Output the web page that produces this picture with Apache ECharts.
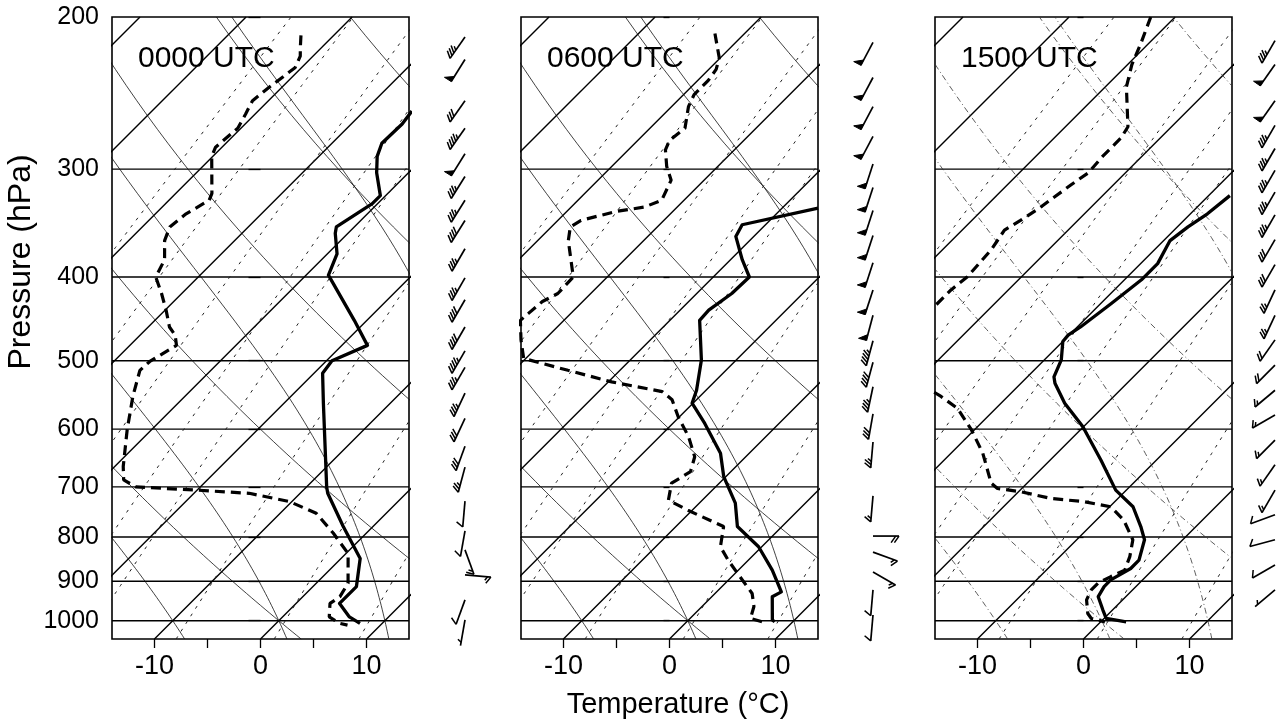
<!DOCTYPE html>
<html><head><meta charset="utf-8">
<script src="https://cdn.jsdelivr.net/npm/echarts@6/dist/echarts.min.js"></script>
<style>html,body{margin:0;padding:0;background:#fff}#c{width:1287px;height:722px}</style>
</head><body><div id="c"></div>
<script>
// ---------- labels / ticks ----------
const panelTitles = ['0000 UTC', '0600 UTC', '1500 UTC'];
const pressureTicks = [200, 300, 400, 500, 600, 700, 800, 900, 1000];
const isobarLevels = [300, 400, 500, 600, 700, 800, 900, 1000];
const tempTicks = [-10, -5, 0, 5, 10];
const tempTickLabels = [-10, 0, 10];
const isothermsAtBase = [-90, -80, -70, -60, -50, -40, -30, -20, -10, 0, 10];
const dryAdiabatsC = [-40, -20, 0, 20, 40, 60, 80, 100, 120];
const moistAdiabatsC = [-30, -20, -10, 0, 10, 20, 30];
const mixingRatios = [0.1, 0.2, 0.4, 0.7, 1, 2, 4, 7, 10, 16, 24];

// ---------- 0000 UTC ----------
const temp0000P = [257, 266, 280, 290, 303, 322, 329, 350, 356, 376, 398, 449, 480, 500, 517, 560, 700, 712, 778, 847, 913, 946, 955, 990, 1007];
const temp0000T = [-35.5, -35.2, -35.3, -34.5, -33.0, -30.5, -30.5, -31.7, -31.2, -29.1, -27.9, -21.2, -17.6, -19.5, -19.2, -16.3, -8.1, -7.4, -2.8, 1.8, 4.1, 4.1, 4.1, 6.3, 7.9];
const dew0000P = [210, 217, 222, 229, 241, 250, 259, 269, 283, 290, 320, 326, 338, 350, 363, 382, 400, 418, 437, 457, 467, 480, 488, 501, 513, 550, 601, 663, 687, 700, 706, 712, 728, 751, 792, 836, 905, 938, 955, 990, 1007, 1012];
const dew0000T = [-53.1, -52.0, -51.2, -50.6, -51.2, -51.5, -50.9, -50.3, -50.6, -50.1, -46.6, -46.2, -47.1, -47.4, -46.6, -44.8, -44.0, -41.9, -39.9, -38.0, -36.7, -35.6, -36.0, -36.6, -36.7, -34.9, -32.3, -29.2, -27.9, -26.1, -20.1, -14.8, -10.2, -6.6, -3.1, 0.2, 3.0, 3.5, 3.2, 4.4, 6.0, 6.9];
const wind0000P = [211, 224, 250, 269, 288, 306, 326, 344, 371, 401, 425, 457, 487, 509, 545, 583, 628, 664, 727, 787, 828, 885, 946, 998];
const wind0000Dir = [215, 212, 215, 215, 212, 212, 212, 212, 210, 210, 210, 210, 210, 210, 205, 205, 200, 195, 185, 190, 160, 95, 200, 190];
const wind0000Kt = [35, 50, 30, 45, 50, 35, 35, 40, 35, 35, 40, 40, 45, 35, 35, 30, 30, 25, 10, 10, 15, 15, 10, 5];

// ---------- 0600 UTC ----------
const temp0600P = [333, 348, 359, 382, 400, 418, 437, 449, 499, 541, 560, 591, 640, 681, 731, 778, 821, 874, 926, 938, 998, 1003];
const temp0600T = [-26.6, -32.2, -31.7, -28.9, -26.6, -26.7, -27.3, -27.2, -23.3, -20.9, -20.1, -17.0, -12.7, -10.2, -6.6, -4.2, -0.3, 3.2, 6.1, 5.7, 7.9, 8.3];
const dew0600P = [209, 223, 230, 237, 246, 254, 269, 278, 285, 298, 309, 326, 332, 336, 344, 350, 363, 400, 418, 427, 441, 449, 473, 497, 513, 529, 543, 555, 581, 612, 646, 672, 693, 725, 745, 778, 821, 851, 881, 930, 963, 994, 1003];
const dew0600T = [-52.8, -50.1, -49.3, -49.0, -49.0, -48.4, -46.7, -47.0, -46.5, -44.8, -43.1, -42.1, -43.1, -45.4, -47.8, -48.2, -47.1, -43.2, -43.1, -43.8, -44.0, -44.1, -42.2, -40.2, -34.9, -29.7, -24.0, -22.3, -20.1, -17.3, -14.8, -13.8, -14.5, -13.2, -10.4, -5.5, -3.9, -1.9, 0.2, 3.5, 4.9, 5.7, 7.1];
const wind0600P = [214, 235, 254, 275, 296, 315, 335, 358, 385, 414, 443, 474, 502, 536, 576, 621, 717, 798, 833, 878, 921, 985];
const wind0600Dir = [208, 208, 208, 208, 198, 198, 198, 198, 198, 198, 195, 195, 195, 192, 190, 185, 185, 90, 110, 120, 185, 185];
const wind0600Kt = [50, 50, 50, 50, 50, 50, 50, 50, 50, 50, 50, 45, 40, 35, 30, 25, 15, 20, 15, 15, 10, 10];

// ---------- 1500 UTC ----------
const temp1500P = [322, 338, 350, 363, 386, 403, 429, 457, 467, 475, 499, 522, 531, 560, 596, 652, 706, 738, 778, 806, 851, 870, 897, 913, 938, 972, 994, 1003];
const temp1500T = [-28.0, -28.4, -29.0, -29.4, -28.4, -28.4, -29.0, -29.7, -30.1, -30.0, -28.4, -27.5, -26.8, -24.0, -20.1, -15.2, -11.0, -7.8, -5.2, -3.6, -2.2, -2.2, -3.0, -3.0, -2.6, -0.9, 0.2, 2.4];
const dew1500P = [200, 215, 227, 241, 268, 276, 290, 303, 313, 333, 344, 353, 372, 400, 414, 431, 470, 540, 550, 568, 601, 640, 693, 703, 709, 722, 728, 738, 765, 806, 843, 874, 889, 905, 921, 946, 981, 994, 1003];
const dew1500T = [-52.3, -50.7, -49.6, -48.0, -44.1, -43.7, -43.7, -43.5, -44.0, -44.8, -45.4, -46.0, -45.4, -45.1, -45.4, -45.4, -46.0, -38.0, -36.3, -33.6, -30.3, -27.0, -23.4, -22.3, -19.8, -16.3, -12.9, -9.9, -7.4, -4.7, -3.4, -2.6, -3.3, -3.9, -3.9, -3.4, -2.0, -1.2, 0.4];
const wind1500P = [213, 227, 250, 267, 284, 301, 319, 339, 362, 387, 414, 443, 473, 506, 541, 578, 618, 660, 706, 754, 806, 862, 921];
const wind1500Dir = [210, 215, 215, 210, 210, 210, 210, 210, 210, 210, 205, 205, 215, 225, 230, 240, 225, 215, 210, 250, 255, 240, 230];
const wind1500Kt = [35, 50, 50, 35, 35, 35, 35, 35, 30, 30, 25, 25, 20, 20, 15, 15, 15, 15, 15, 10, 10, 10, 5];

// ---------- layout ----------
const P_TOP = 200, P_BOT = 1050, X_MIN = -14, X_MAX = 14;
const GRID_TOP = 17, GRID_H = 622, GRID_W = 297;
const panelLeft = [112, 521, 935];
const barbX = [465, 873, 1283];
const SKEW = (GRID_H / Math.log(P_BOT / P_TOP)) / (GRID_W / (X_MAX - X_MIN));
const skewX = (T, p) => T + SKEW * Math.log(P_BOT / p);
const FONT = "'Liberation Sans', Arial, Helvetica, sans-serif";

function es(T) { return 6.112 * Math.exp(17.67 * T / (T + 243.5)); }
function pLevels(step) { const a = []; for (let p = P_BOT; p >= P_TOP - 0.01; p -= step) a.push(p); return a; }
function isotherm(T0) { return [[skewX(T0, P_BOT), P_BOT], [skewX(T0, P_TOP), P_TOP]]; }
function dryAdiabat(thC) { const th = thC + 273.15; return pLevels(10).map(p => [skewX(th * Math.pow(p / 1000, 0.2857) - 273.15, p), p]); }
function mixLine(w) { return pLevels(10).map(p => { const e = w * p / (622 + w); const l = Math.log(e / 6.112); const T = 243.5 * l / (17.67 - l); return [skewX(T, p), p]; }); }
function moistAdiabat(thw) {
  const Rd = 287.04, cp = 1005.7, L = 2.501e6, eps = 0.622;
  const f = (p, T) => { const TK = T + 273.15, e = es(T), rs = eps * e / (p - e); return (Rd * TK + L * rs) / (p * (cp + L * L * rs * eps / (Rd * TK * TK))); };
  const up = [], down = [];
  let T = thw, p = 1000; const dp = 2;
  while (p > P_TOP) { const k1 = f(p, T); const k2 = f(p - dp / 2, T - k1 * dp / 2); T -= k2 * dp; p -= dp; if (Math.round(p) % 10 === 0) up.push([skewX(T, p), p]); }
  T = thw; p = 1000;
  while (p < P_BOT) { const k1 = f(p, T); const k2 = f(p + dp / 2, T + k1 * dp / 2); T += k2 * dp; p += dp; if (Math.round(p) % 10 === 0) down.push([skewX(T, p), p]); }
  return down.reverse().concat([[skewX(thw, 1000), 1000]], up);
}
const profile = (P, T) => P.map((p, i) => [skewX(T[i], p), p]);
const windRows = (P, D, S) => P.map((p, i) => [0.5, p, D[i], S[i]]);

const profiles = [
  { t: profile(temp0000P, temp0000T), d: profile(dew0000P, dew0000T), w: windRows(wind0000P, wind0000Dir, wind0000Kt) },
  { t: profile(temp0600P, temp0600T), d: profile(dew0600P, dew0600T), w: windRows(wind0600P, wind0600Dir, wind0600Kt) },
  { t: profile(temp1500P, temp1500T), d: profile(dew1500P, dew1500T), w: windRows(wind1500P, wind1500Dir, wind1500Kt) }
];

function barbItem(params, api) {
  const p = api.value(1), dir = api.value(2), spd = api.value(3);
  const s = api.coord([0.5, p]);
  const r = dir * Math.PI / 180;
  const d = [Math.sin(r), -Math.cos(r)];
  const n = [-d[1], d[0]];
  let fv = [n[0] - 0.7 * d[0], n[1] - 0.7 * d[1]];
  const fl = Math.hypot(fv[0], fv[1]); fv = [fv[0] / fl, fv[1] / fl];
  const Ls = 26, F = 8;
  const at = k => [s[0] + d[0] * k, s[1] + d[1] * k];
  const e = at(Ls);
  const ch = [{ type: 'line', shape: { x1: s[0], y1: s[1], x2: e[0], y2: e[1] }, style: { stroke: '#000', lineWidth: 1.7 } }];
  let rem = Math.round(spd / 5) * 5, pos = Ls;
  while (rem >= 50) {
    const a = at(pos), b = at(pos - 6), c = [a[0] + n[0] * F, a[1] + n[1] * F];
    ch.push({ type: 'polygon', shape: { points: [a, b, c] }, style: { fill: '#000', stroke: '#000', lineWidth: 1 } });
    pos -= 7.5; rem -= 50;
  }
  while (rem >= 10) {
    const a = at(pos);
    ch.push({ type: 'line', shape: { x1: a[0], y1: a[1], x2: a[0] + fv[0] * F, y2: a[1] + fv[1] * F }, style: { stroke: '#000', lineWidth: 1.5 } });
    pos -= 3.3; rem -= 10;
  }
  if (rem >= 5) {
    if (pos === Ls) pos -= 3.3;
    const a = at(pos);
    ch.push({ type: 'line', shape: { x1: a[0], y1: a[1], x2: a[0] + fv[0] * F * 0.55, y2: a[1] + fv[1] * F * 0.55 }, style: { stroke: '#000', lineWidth: 1.5 } });
  }
  return { type: 'group', children: ch };
}

const grid = [], xAxis = [], yAxis = [], series = [], title = [];
for (let i = 0; i < 3; i++) {
  grid.push({ left: panelLeft[i], top: GRID_TOP, width: GRID_W, height: GRID_H, show: true, borderColor: '#000', borderWidth: 1.6, backgroundColor: 'transparent' });
  xAxis.push({ type: 'value', gridIndex: i, min: X_MIN, max: X_MAX, axisLine: { show: false }, splitLine: { show: false },
    axisTick: { show: true, length: 9, customValues: tempTicks, lineStyle: { color: '#000', width: 1.3 } },
    axisLabel: { show: true, customValues: tempTickLabels, margin: 14, fontSize: 27, color: '#000', fontFamily: FONT, formatter: v => String(v) } });
  yAxis.push({ type: 'log', logBase: 10, gridIndex: i, min: P_TOP, max: P_BOT, inverse: true, axisLine: { show: false }, splitLine: { show: false },
    axisTick: { show: true, length: i === 0 ? 12 : 6, customValues: pressureTicks, lineStyle: { color: '#000', width: 1.3 } },
    axisLabel: { show: i === 0, customValues: pressureTicks, margin: 13, fontSize: 25, color: '#000', fontFamily: FONT, formatter: v => String(Math.round(v)) } });
  title.push({ text: panelTitles[i], left: panelLeft[i] + 21, top: 39, textStyle: { fontSize: 30, fontWeight: 'normal', color: '#000', fontFamily: FONT } });
  const thinStyle = i === 2 ? { color: '#333', width: 0.8, type: [6, 3, 1, 3] } : { color: '#111', width: 0.8, type: 'solid' };
  const base = { type: 'line', xAxisIndex: i, yAxisIndex: i, symbol: 'none', silent: true, animation: false, clip: true };
  for (const T0 of isothermsAtBase) series.push(Object.assign({}, base, { data: isotherm(T0), lineStyle: { color: '#000', width: 1.4 } }));
  for (const p of isobarLevels) series.push(Object.assign({}, base, { data: [[X_MIN, p], [X_MAX, p]], lineStyle: { color: '#000', width: 1.4 } }));
  for (const th of dryAdiabatsC) series.push(Object.assign({}, base, { data: dryAdiabat(th), lineStyle: thinStyle }));
  for (const th of moistAdiabatsC) series.push(Object.assign({}, base, { data: moistAdiabat(th), lineStyle: thinStyle }));
  for (const w of mixingRatios) series.push(Object.assign({}, base, { data: mixLine(w), lineStyle: { color: '#222', width: 1, type: [3, 6] } }));
  series.push(Object.assign({}, base, { data: profiles[i].t, z: 5, lineStyle: { color: '#000', width: 3.3, join: 'round' } }));
  series.push(Object.assign({}, base, { data: profiles[i].d, z: 5, lineStyle: { color: '#000', width: 3.2, type: [10, 6] } }));
}
for (let i = 0; i < 3; i++) {
  grid.push({ left: barbX[i] - 20, top: GRID_TOP, width: 40, height: GRID_H, show: false });
  xAxis.push({ type: 'value', gridIndex: 3 + i, min: 0, max: 1, show: false });
  yAxis.push({ type: 'log', logBase: 10, gridIndex: 3 + i, min: P_TOP, max: P_BOT, inverse: true, show: false });
  series.push({ type: 'custom', xAxisIndex: 3 + i, yAxisIndex: 3 + i, renderItem: barbItem, data: profiles[i].w, encode: { x: 0, y: 1 }, silent: true, animation: false, clip: false });
}

const chart = echarts.init(document.getElementById('c'), null, { renderer: 'canvas' });
chart.setOption({
  animation: false,
  backgroundColor: '#fff',
  title, grid, xAxis, yAxis, series,
  graphic: [
    { type: 'text', x: 678, y: 705, style: { text: 'Temperature (°C)', font: '29px ' + FONT, fill: '#000', align: 'center', verticalAlign: 'middle' } },
    { type: 'text', x: 21, y: 262, rotation: Math.PI / 2, style: { text: 'Pressure (hPa)', font: '32px ' + FONT, fill: '#000', align: 'center', verticalAlign: 'middle' } }
  ]
});
</script>
</body></html>
